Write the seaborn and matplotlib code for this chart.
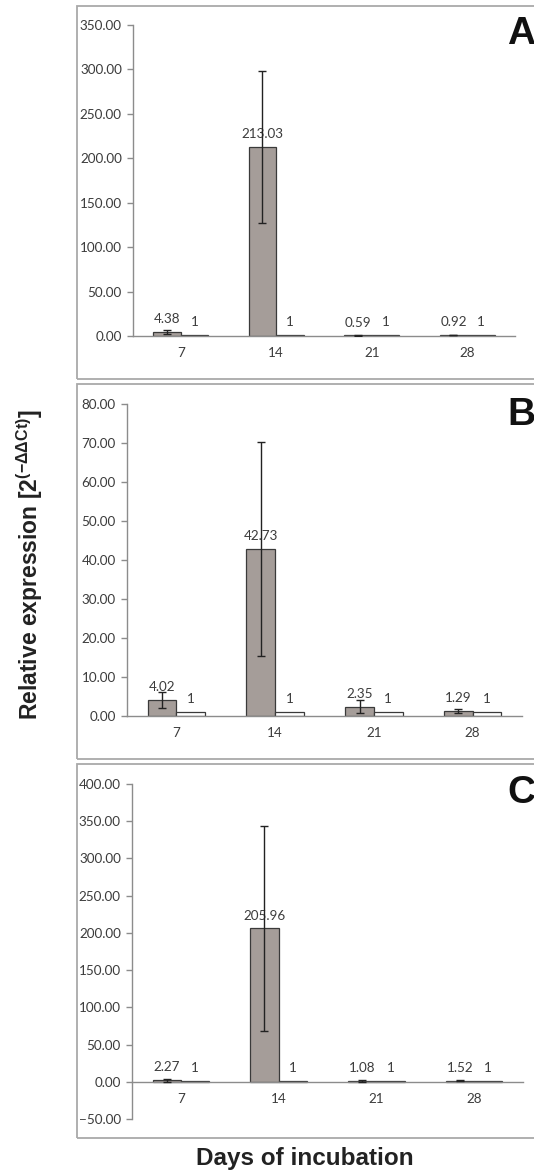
import numpy as np
import pandas as pd
import matplotlib
matplotlib.use('Agg')
import matplotlib.pyplot as plt
import seaborn as sns
from matplotlib.patches import Rectangle
from matplotlib.ticker import StrMethodFormatter, FixedLocator

days = ['7', '14', '21', '28']
groups = ['treated', 'control']

vals_a = [4.38, 213.03, 0.59, 0.92]
vals_b = [4.02, 42.73, 2.35, 1.29]
vals_c = [2.27, 205.96, 1.08, 1.52]
ctrl = [1, 1, 1, 1]

err_a = [2.5, 85.5, 0.3, 0.3]
err_b = [2.05, 27.4, 1.7, 0.4]
err_c = [2.0, 137.5, 0.8, 0.8]

labels_a = ['4.38', '213.03', '0.59', '0.92']
labels_b = ['4.02', '42.73', '2.35', '1.29']
labels_c = ['2.27', '205.96', '1.08', '1.52']
ctrl_labels = ['1', '1', '1', '1']

sns.set_theme(style='white')
plt.rcParams['font.family'] = ['Lato', 'DejaVu Sans']
plt.rcParams['mathtext.fontset'] = 'custom'
plt.rcParams['mathtext.rm'] = 'Liberation Sans'

W, H = 534, 1175
fig = plt.figure(figsize=(W / 100, H / 100), dpi=100)

gray = '#a59d99'
edge = '#3a3a3a'
axis_col = '#8c8c8c'
txt_col = '#3c3c3c'
fs = 9.7


def px_axes(left, right, top, bottom):
    return fig.add_axes([left / W, 1 - bottom / H, (right - left) / W, (bottom - top) / H])


panels = [
    # frame top/bottom, axes box, ylim, step, data, letter, letter centre
    (6, 379, (133, 515, 25, 336), (0, 350), 50, vals_a, err_a, labels_a, 'A', 34),
    (384, 759, (127, 522, 404, 716), (0, 80), 10, vals_b, err_b, labels_b, 'B', 415),
    (764, 1138, (132, 523, 784, 1119), (-50, 400), 50, vals_c, err_c, labels_c, 'C', 793),
]

for ftop, fbot, box, ylim, step, vals, errs, labs, letter, ly in panels:
    fig.patches.append(Rectangle((77 / W, 1 - fbot / H), 470 / W, (fbot - ftop) / H,
                                 transform=fig.transFigure, fill=False,
                                 edgecolor='#a9a9a9', linewidth=1.3))
    ax = px_axes(*box)
    df = pd.DataFrame({
        'day': days * 2,
        'value': vals + ctrl,
        'group': [groups[0]] * 4 + [groups[1]] * 4,
    })
    sns.barplot(data=df, x='day', y='value', hue='group', hue_order=groups,
                order=days, palette=[gray, 'white'], edgecolor=edge, linewidth=0.9,
                width=0.58, errorbar=None, legend=False, ax=ax, saturation=1)
    cont_t, cont_c = ax.containers[0], ax.containers[1]
    xs = [p.get_x() + p.get_width() / 2 for p in cont_t]
    ax.errorbar(xs, vals, yerr=errs, fmt='none', ecolor='#222222', elinewidth=1.0,
                capsize=3, capthick=1.0, zorder=5)
    ax.bar_label(cont_t, labels=labs, padding=5, fontsize=fs, color=txt_col)
    ax.bar_label(cont_c, labels=ctrl_labels, padding=5, fontsize=fs, color=txt_col)

    ax.set_ylim(*ylim)
    ax.set_xlim(-0.5, 3.5)
    ax.yaxis.set_major_locator(FixedLocator(np.arange(ylim[0], ylim[1] + step / 2, step)))
    ax.yaxis.set_major_formatter(StrMethodFormatter('{x:.2f}'))
    ax.xaxis.set_minor_locator(FixedLocator([-0.5, 0.5, 1.5, 2.5, 3.5]))
    ax.tick_params(axis='x', which='major', length=0, pad=8, labelsize=fs, labelcolor=txt_col)
    ax.tick_params(axis='x', which='minor', length=4, width=1, color=axis_col, direction='out')
    ax.tick_params(axis='y', length=4, width=1, color=axis_col, direction='out',
                   labelsize=fs, labelcolor=txt_col, pad=4, left=True)
    for s in ['top', 'right']:
        ax.spines[s].set_visible(False)
    for s in ['left', 'bottom']:
        ax.spines[s].set_color(axis_col)
        ax.spines[s].set_linewidth(1.0)
    if ylim[0] < 0:
        ax.spines['bottom'].set_position(('data', 0))
    ax.set_xlabel('')
    ax.set_ylabel('')
    ax.patch.set_alpha(0)

    fig.text(507 / W, 1 - ly / H, letter, fontsize=28, fontweight='bold',
             family='Liberation Sans', ha='left', va='center', color='#111111')

fig.text(30 / W, 1 - 565 / H, 'Relative expression [2$^{\\mathregular{(-ΔΔCt)}}$]',
         rotation=90, fontsize=16.5, fontweight='bold', family='Liberation Sans',
         ha='center', va='center', color='#222222')
fig.text(305 / W, 1 - 1158 / H, 'Days of incubation', fontsize=17.5, fontweight='bold',
         family='Liberation Sans', ha='center', va='center', color='#222222')

fig.savefig('out.png', dpi=100)
